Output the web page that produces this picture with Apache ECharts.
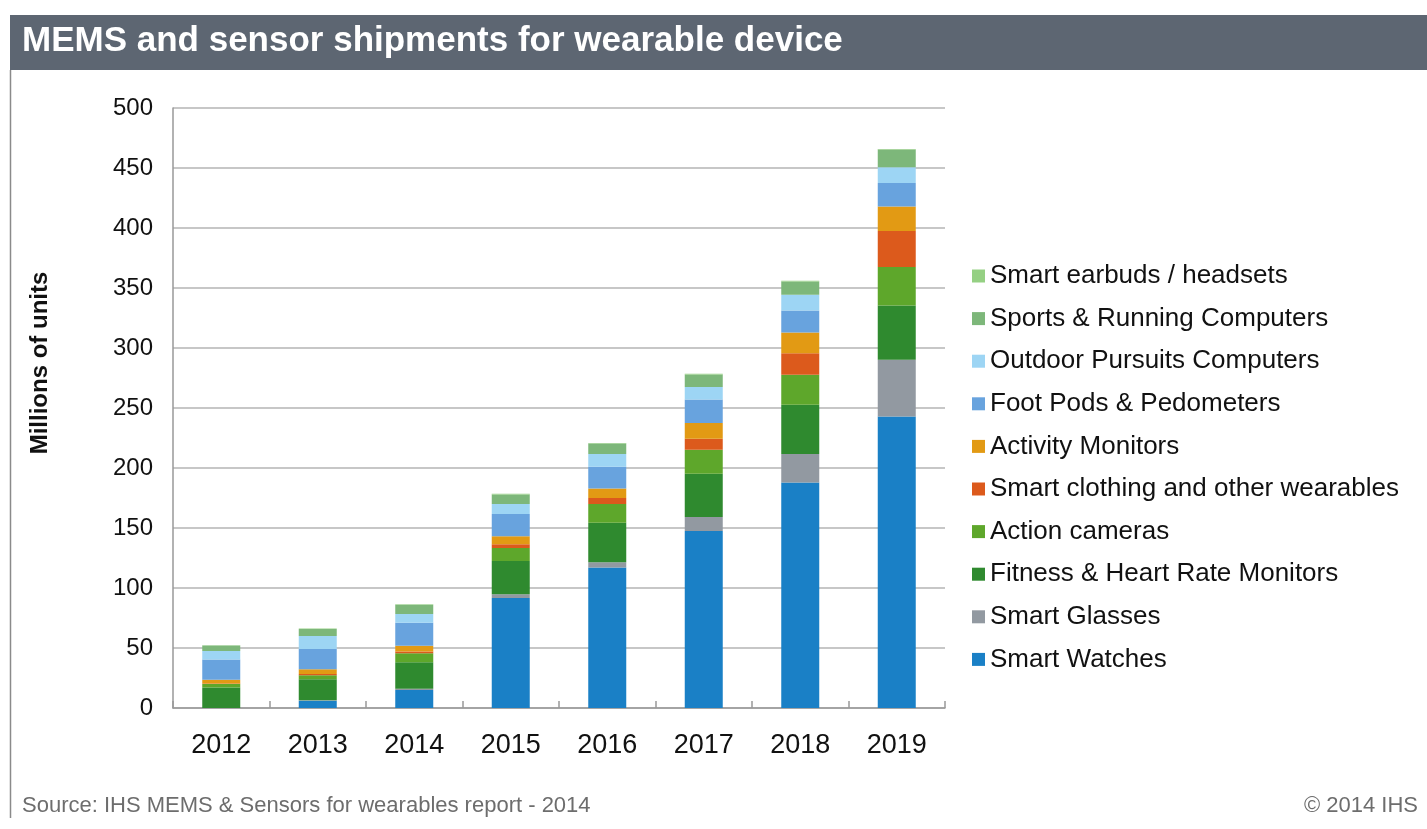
<!DOCTYPE html>
<html>
<head>
<meta charset="utf-8">
<script src="https://cdn.jsdelivr.net/npm/echarts@6/dist/echarts.min.js"></script>
<style>
html,body{margin:0;padding:0;background:#fff;}
#chart{width:1427px;height:829px;}
</style>
</head>
<body>
<div id="chart"></div>
<script>
const years = ['2012','2013','2014','2015','2016','2017','2018','2019'];
const smartWatches     = [0, 6, 15, 91.7, 117, 147.5, 188, 243];
const smartGlasses     = [0, 0.5, 1, 3, 4.5, 11.7, 23.6, 47.3];
const fitnessMonitors  = [17, 17.5, 22.2, 27.7, 32.8, 36.1, 41.1, 45.2];
const actionCameras    = [3, 3.3, 7.4, 11, 15.7, 20, 25, 32.1];
const smartClothing    = [0.5, 1, 1.5, 3, 5, 9.1, 18, 29.9];
const activityMonitors = [3, 4, 4.8, 6.8, 8, 13.1, 17.2, 20.4];
const footPods         = [17, 16.9, 19.1, 18.5, 18, 19.5, 18.4, 19.5];
const outdoorComputers = [7, 10.7, 7.4, 8.3, 10.7, 10.5, 13, 13.2];
const sportsComputers  = [4.5, 6, 7.6, 8, 8.7, 10.5, 11.2, 14.8];
const smartEarbuds     = [0.3, 0.3, 0.5, 0.5, 0.5, 0.5, 0.5, 0.5];
const yTicks = [0, 50, 100, 150, 200, 250, 300, 350, 400, 450, 500];

const seriesDefs = [
  ['Smart Watches', smartWatches, '#1a80c6'],
  ['Smart Glasses', smartGlasses, '#9299a1'],
  ['Fitness & Heart Rate Monitors', fitnessMonitors, '#2f8a2f'],
  ['Action cameras', actionCameras, '#5ea72b'],
  ['Smart clothing and other wearables', smartClothing, '#dc5a1c'],
  ['Activity Monitors', activityMonitors, '#e29a14'],
  ['Foot Pods & Pedometers', footPods, '#68a3de'],
  ['Outdoor Pursuits Computers', outdoorComputers, '#9dd5f4'],
  ['Sports & Running Computers', sportsComputers, '#7db77a'],
  ['Smart earbuds / headsets', smartEarbuds, '#95d083']
];

const chart = echarts.init(document.getElementById('chart'), null, {renderer:'canvas'});
const font = '"Liberation Sans", Arial, sans-serif';

const option = {
  animation: false,
  textStyle: {fontFamily: font},
  grid: {left: 173, right: 482, top: 108, bottom: 121, containLabel: false},
  legend: {
    orient: 'vertical',
    left: 967,
    top: 258,
    itemWidth: 13,
    itemHeight: 13,
    itemGap: 16.6,
    icon: 'rect',
    textStyle: {fontSize: 26, color: '#111', fontFamily: font, lineHeight: 26},
    data: seriesDefs.map(d => d[0]).reverse()
  },
  xAxis: {
    type: 'category',
    data: years,
    axisLine: {lineStyle: {color: '#999', width: 1.5}},
    axisTick: {show: true, inside: true, length: 7, alignWithLabel: false, lineStyle: {color: '#999', width: 1.5}},
    axisLabel: {fontSize: 27, color: '#111', margin: 24, fontFamily: font}
  },
  yAxis: {
    type: 'value',
    min: 0, max: 500, interval: 50,
    axisLine: {show: true, lineStyle: {color: '#999', width: 1.5}},
    axisTick: {show: false},
    axisLabel: {fontSize: 24, color: '#111', margin: 20, fontFamily: font,
      formatter: v => yTicks.includes(v) ? String(v) : ''},
    splitLine: {lineStyle: {color: '#b5b5b5', width: 1.5}}
  },
  series: seriesDefs.map(d => ({
    name: d[0],
    type: 'bar',
    stack: 'total',
    barWidth: 38,
    data: d[1],
    itemStyle: {color: d[2]}
  })),
  graphic: [
    {type: 'rect', left: 10, top: 15, shape: {width: 1417, height: 55}, style: {fill: '#5d6672'}, z: 10},
    {type: 'line', shape: {x1: 10.5, y1: 70, x2: 10.5, y2: 818}, style: {stroke: '#8a8a8a', lineWidth: 1.5}},
    {type: 'text', left: 22, top: 24, z: 11,
      style: {text: 'MEMS and sensor shipments for wearable device', fill: '#ffffff',
        font: 'bold 35px "Liberation Sans", Arial, sans-serif'}},
    {type: 'text', x: 40, y: 363, rotation: Math.PI / 2,
      style: {text: 'Millions of units', fill: '#111', align: 'center', verticalAlign: 'middle',
        font: 'bold 24px "Liberation Sans", Arial, sans-serif'}},
    {type: 'text', left: 22, top: 795,
      style: {text: 'Source: IHS MEMS & Sensors for wearables report - 2014', fill: '#6d6d6d',
        font: '22px "Liberation Sans", Arial, sans-serif'}},
    {type: 'text', right: 9, top: 795,
      style: {text: '© 2014 IHS', fill: '#6d6d6d',
        font: '22px "Liberation Sans", Arial, sans-serif'}}
  ]
};
chart.setOption(option);
</script>
</body>
</html>
